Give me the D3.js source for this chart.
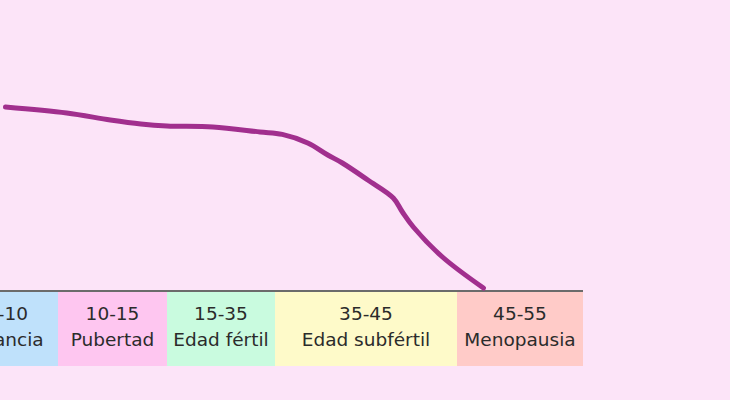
<!DOCTYPE html>
<html>
<head>
<meta charset="utf-8">
<script src="https://cdn.jsdelivr.net/npm/d3@7"></script>
<style>
  html, body { margin: 0; padding: 0; background: #fce4f8; }
  svg { display: block; }
</style>
</head>
<body>
<div id="chart"></div>
<script>
/* Life stages shown as a coloured band under the curve */
const stageRanges = ["0-10", "10-15", "15-35", "35-45", "45-55"];
const stageNames = ["Infancia", "Pubertad", "Edad fértil", "Edad subfértil", "Menopausia"];
const stageStart = [0, 10, 15, 35, 45];
const stageEnd = [10, 15, 35, 45, 55];
const stageColors = ["#bfe1fb", "#fec6f0", "#c9fbdf", "#fefac9", "#ffcbc8"];

/* Fertility curve (age, relative level) */
const curveAge = [4.85, 10.4, 12.4, 13.8, 15, 23.5, 32.2, 35.4, 36.8,
  37.9, 38.7, 40.1, 41.5, 42.0, 42.6, 44.2, 47.1];
const curveValue = [91.5, 88.5, 85, 83, 82, 81.5, 79, 77.8, 73.5,
  67.5, 63.5, 55, 46, 39, 31.5, 16.5, 1];

const W = 730, H = 400;
const bandTop = 291, bandBottom = 366;

const svg = d3.select("#chart").append("svg")
  .attr("width", W).attr("height", H);

svg.append("rect").attr("width", W).attr("height", H).attr("fill", "#fce4f8");

/* stage boxes are not proportional to age, so x is piecewise */
const x = d3.scaleLinear()
  .domain([0, 10, 15, 35, 45, 55])
  .range([-44, 58, 167, 275, 457, 583]);
const y = d3.scaleLinear().domain([0, 100]).range([bandTop - 1, 90]);

const stages = stageRanges.map((r, i) => ({
  range: r, name: stageNames[i], a0: stageStart[i], a1: stageEnd[i], color: stageColors[i]
}));

const band = svg.append("g");
band.selectAll("rect").data(stages).enter().append("rect")
  .attr("x", d => x(d.a0)).attr("width", d => x(d.a1) - x(d.a0))
  .attr("y", bandTop).attr("height", bandBottom - bandTop)
  .attr("fill", d => d.color);

const lbl = band.selectAll("text").data(stages).enter().append("text")
  .attr("x", d => (x(d.a0) + x(d.a1)) / 2)
  .attr("text-anchor", "middle")
  .style("font-family", "'DejaVu Sans', Verdana, sans-serif")
  .style("font-size", "18.5px").style("fill", "#2b2b2b");
lbl.append("tspan").attr("x", d => (x(d.a0) + x(d.a1)) / 2).attr("y", 320).text(d => d.range);
lbl.append("tspan").attr("x", d => (x(d.a0) + x(d.a1)) / 2).attr("y", 346).text(d => d.name);

/* grey rule along the top of the band */
svg.append("line")
  .attr("x1", x(0)).attr("x2", x(55))
  .attr("y1", bandTop).attr("y2", bandTop)
  .attr("stroke", "#6b6b6b").attr("stroke-width", 2);

const pts = curveAge.map((a, i) => [a, curveValue[i]]);
const line = d3.line()
  .x(d => x(d[0])).y(d => y(d[1]))
  .curve(d3.curveCatmullRom.alpha(0.5));

svg.append("path").datum(pts)
  .attr("d", line)
  .attr("fill", "none")
  .attr("stroke", "#a12f8e").attr("stroke-width", 5)
  .attr("stroke-linecap", "round").attr("stroke-linejoin", "round");
</script>
</body>
</html>
